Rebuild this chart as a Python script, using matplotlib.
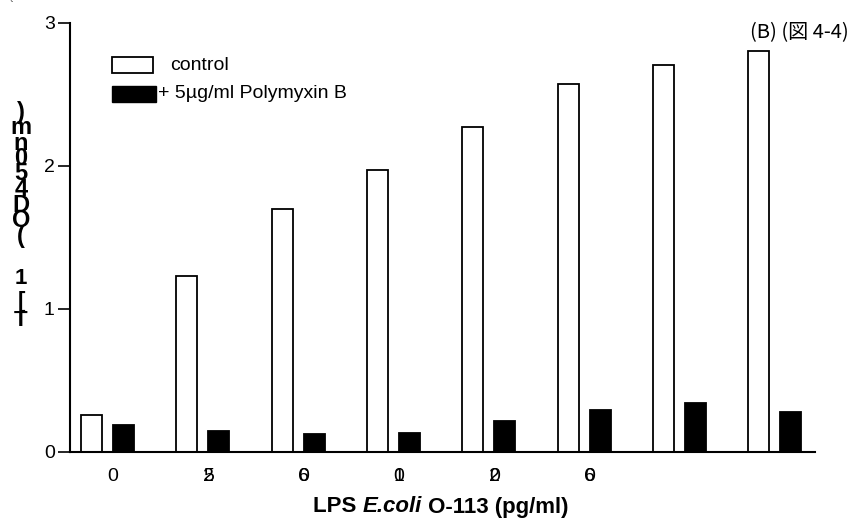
import matplotlib.pyplot as plt
import numpy as np
from matplotlib.patches import Rectangle

# data
groups = np.arange(8)
control = [0.26, 1.23, 1.70, 1.97, 2.27, 2.57, 2.70, 2.80]
polymyxin = [0.19, 0.15, 0.125, 0.13, 0.215, 0.29, 0.345, 0.28]
tick_top = ["0", "2", "6", "0", "2", "6"]
tick_under = ["", "5", "0", "1", "0", "0"]

W, H = 857, 523
plt.rcParams["font.family"] = ["Liberation Sans", "DejaVu Sans"]
fig = plt.figure(figsize=(W / 100, H / 100), dpi=100)


def fx(px):
    return px / W


def fy(py):
    return 1 - py / H


ax = fig.add_axes([fx(70), fy(452), fx(815) - fx(70), fy(22.5) - fy(452)])

bw = 0.22
off = 0.335
ax.bar(groups, control, width=bw, color="white", edgecolor="black", linewidth=1.3)
ax.bar(groups + off, polymyxin, width=bw, color="black", edgecolor="black", linewidth=1.3)

ax.set_xlim(-0.226, 7.59)
ax.set_ylim(0, 3)
ax.spines["top"].set_visible(False)
ax.spines["right"].set_visible(False)
ax.spines["left"].set_linewidth(1.5)
ax.spines["bottom"].set_linewidth(1.5)
ax.set_yticks([0, 1, 2, 3])
ax.tick_params(axis="y", length=9, width=1.2, labelsize=14, pad=2)

# overlapping x tick labels, as in the original
tpos = np.arange(len(tick_top)) + 0.225
ax.set_xticks([])
for x, a, b in zip(tpos, tick_top, tick_under):
    for s in (a, b):
        if s:
            ax.text(x, -0.058, s, ha="center", va="center", fontsize=14,
                    transform=ax.get_xaxis_transform())

# x label in three pieces (bold + bold italic)
fig.canvas.draw()
r = fig.canvas.get_renderer()
parts = [("LPS ", "normal"), ("E.coli", "italic"), (" O-113 (pg/ml)", "normal")]
texts = []
for s, st in parts:
    t = fig.text(0, fy(507), s, fontsize=16, fontweight="bold", style=st, va="center")
    texts.append(t)
widths = [t.get_window_extent(r).width for t in texts]
x0 = 441 - sum(widths) / 2
for t, w in zip(texts, widths):
    t.set_x(fx(x0))
    x0 += w

# hand-drawn legend
fig.add_artist(Rectangle((fx(112), fy(73)), fx(41), fy(57) - fy(73),
                         facecolor="white", edgecolor="black", lw=1.3))
fig.add_artist(Rectangle((fx(112), fy(101.5)), fx(44), fy(86) - fy(101.5),
                         facecolor="black", edgecolor="black", lw=1))
fig.text(fx(170), fy(66), "control", fontsize=14, va="center")
fig.text(fx(158), fy(94), "+ 5µg/ml Polymyxin B", fontsize=14, va="center")

fig.text(fx(849), fy(33), "(B) (図 4-4)", fontsize=14.5, ha="right", va="center",
         family=["Noto Sans CJK JP", "DejaVu Sans"])
fig.text(fx(9), fy(9), "`", fontsize=8)

# garbled stacked y-axis label as it appears
stack = [")", "m", "n", "0", "5", "4", "D", "O", "("]
ys = np.linspace(112, 236, len(stack))
for c, y in zip(stack, ys):
    fig.text(fx(21), fy(y), c, fontsize=17, fontweight="bold", ha="center", va="center")
for c, y in zip(["1", "[", "T"], [279, 302, 320]):
    fig.text(fx(21), fy(y), c, fontsize=16, fontweight="bold", ha="center", va="center")

fig.savefig("out.png", dpi=100)
